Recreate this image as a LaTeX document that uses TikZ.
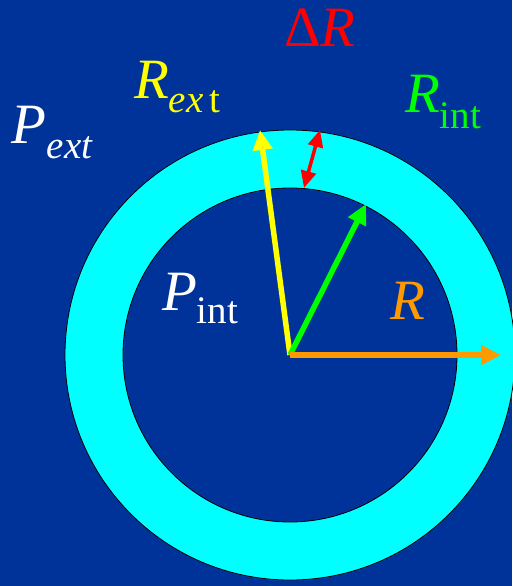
\documentclass[tikz,border=0pt]{standalone}
\usepackage{fontspec}
\setmainfont{Liberation Serif}
\usetikzlibrary{arrows.meta}
\definecolor{bgblue}{RGB}{0,51,153}
\definecolor{ringcyan}{RGB}{0,255,255}
\definecolor{yel}{RGB}{255,255,0}
\definecolor{grn}{RGB}{0,255,0}
\definecolor{org}{RGB}{255,153,0}
\definecolor{rd}{RGB}{255,0,0}
\newcommand{\bigf}{\fontsize{57}{57}\selectfont}
\newcommand{\subf}{\fontsize{39}{39}\selectfont}
\tikzset{
  lbl/.style={anchor=base west, inner sep=0pt, outer sep=0pt},
  arr/.style={line width=5.5pt, -{Triangle[length=20pt,width=19pt]}},
  darr/.style={line width=3.5pt, {Triangle[length=17pt,width=15pt]}-{Triangle[length=17pt,width=15pt]}}
}
\begin{document}
\begin{tikzpicture}[x=1pt,y=-1pt]
\fill[bgblue] (0,0) rectangle (512,586);
\useasboundingbox (0,0) rectangle (512,586);
\coordinate (c) at (290,355);
\fill[ringcyan, draw=black, line width=0.8pt] (c) circle (225);
\fill[bgblue, draw=black, line width=0.8pt] (c) circle (167);
\coordinate (ytip) at (260,130);
\coordinate (gtip) at (366,204);
\coordinate (otip) at (501,355);
\coordinate (rin) at (304,188);
\coordinate (rout) at (320,130);
\draw[arr, yel] (c) -- (ytip);
\draw[arr, grn] (c) -- (gtip);
\draw[arr, org, line width=6pt] (c) -- (otip);
\draw[darr, rd] (rin) -- (rout);
\node[lbl, text=rd] (dr) at (284,47) {\bigf Δ\itshape R};
\node[lbl, text=yel] (rext) at (134,98) {\bigf\itshape R\raisebox{-14pt}{\subf ex\,\upshape t}};
\node[lbl, text=grn] (rint) at (405,112) {\bigf\itshape R\raisebox{-16pt}{\subf\upshape int}};
\node[lbl, text=white] (pext) at (12,143) {\bigf\itshape P\raisebox{-15pt}{\subf ext}};
\node[lbl, text=white] (pint) at (162,310) {\bigf\itshape P\raisebox{-13pt}{\subf\upshape int}};
\node[lbl, text=org] (rr) at (390,319) {\bigf\itshape R};
\end{tikzpicture}
\end{document}
